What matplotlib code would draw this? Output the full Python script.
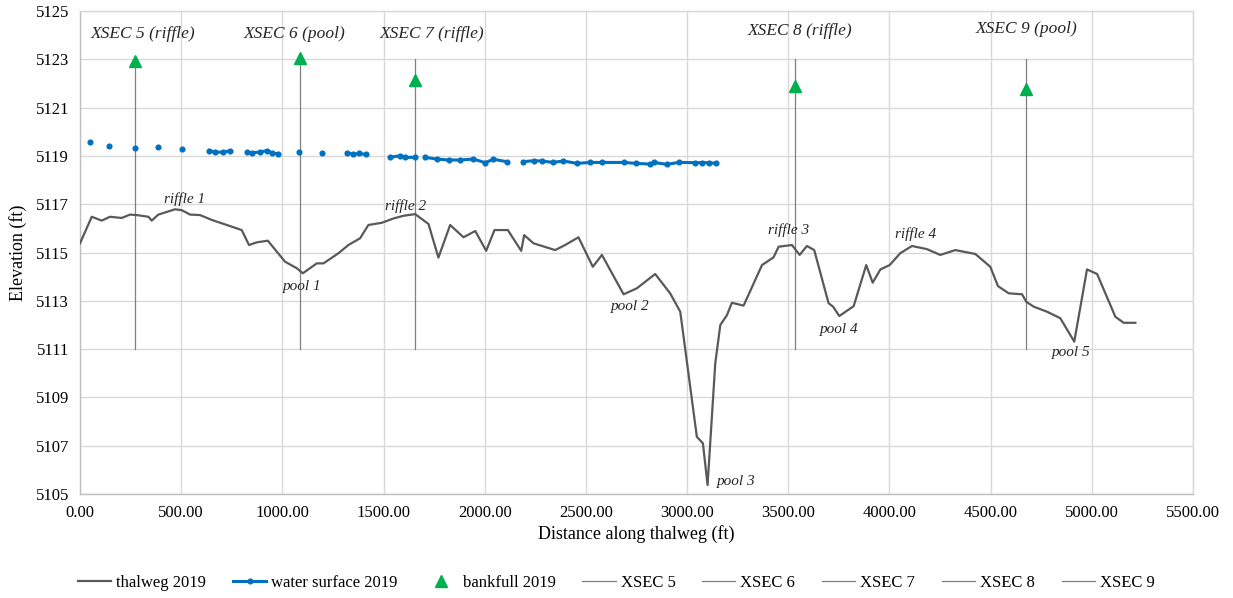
import numpy as np
import matplotlib
matplotlib.use("Agg")
import matplotlib.pyplot as plt
from matplotlib.ticker import FormatStrFormatter, MultipleLocator

plt.rcParams['font.family'] = ['Liberation Serif', 'DejaVu Serif']

# ---- thalweg profile ----
thalweg_dist = [0, 58, 107, 148, 206, 247, 280, 338, 354, 387, 470, 503, 544, 593, 651, 750, 799,
                835, 873, 928, 1013, 1071, 1101, 1170, 1203, 1277, 1326, 1384, 1425, 1491, 1549,
                1598, 1656, 1722, 1771, 1829, 1895, 1953, 2007, 2048, 2114, 2180, 2195, 2241, 2348,
                2397, 2463, 2534, 2579, 2686, 2752, 2842, 2916, 2966, 3048, 3078, 3101, 3139, 3164,
                3197, 3221, 3279, 3370, 3427, 3452, 3518, 3556, 3592, 3628, 3699, 3721, 3752, 3823,
                3885, 3917, 3955, 4001, 4053, 4111, 4185, 4251, 4325, 4424, 4498, 4536, 4589, 4655,
                4676, 4712, 4778, 4844, 4913, 4976, 5026, 5116, 5157, 5215]
thalweg_elev = [5115.38, 5116.48, 5116.32, 5116.48, 5116.43, 5116.57, 5116.55, 5116.48, 5116.32,
                5116.57, 5116.79, 5116.75, 5116.57, 5116.55, 5116.35, 5116.07, 5115.93, 5115.31,
                5115.42, 5115.49, 5114.62, 5114.35, 5114.14, 5114.55, 5114.55, 5114.97, 5115.31,
                5115.59, 5116.14, 5116.23, 5116.41, 5116.52, 5116.59, 5116.18, 5114.79, 5116.14,
                5115.63, 5115.89, 5115.07, 5115.93, 5115.93, 5115.07, 5115.72, 5115.38, 5115.10,
                5115.31, 5115.63, 5114.41, 5114.90, 5113.27, 5113.52, 5114.11, 5113.31, 5112.55,
                5107.37, 5107.10, 5105.37, 5110.41, 5112.00, 5112.41, 5112.92, 5112.80, 5114.48,
                5114.80, 5115.24, 5115.31, 5114.90, 5115.27, 5115.10, 5112.90, 5112.76, 5112.37,
                5112.78, 5114.48, 5113.75, 5114.30, 5114.48, 5114.97, 5115.27, 5115.14, 5114.90,
                5115.10, 5114.94, 5114.41, 5113.61, 5113.31, 5113.27, 5112.96, 5112.76, 5112.55,
                5112.28, 5111.31, 5114.30, 5114.11, 5112.34, 5112.09, 5112.09]

# ---- water surface (NaN = gap in survey) ----
nan = np.nan
ws_dist = [49, nan, 143, nan, 272, nan, 384, nan, 506, nan,
           638, 667, 708, 741, nan,
           827, 848, 890, 923, 948, 980, nan,
           1083, nan, 1198, nan,
           1318, 1351, 1379, 1415, nan,
           1532, 1582, 1607, 1656, nan,
           1705, 1763, 1821, 1878, 1944, 2002, 2043, 2109, nan,
           2188, 2241, 2282, 2337, 2389, 2455, 2521, 2579, 2686, 2748, 2818, 2834, 2900, 2958,
           3040, 3073, 3106, 3144]
ws_elev = [5119.59, nan, 5119.42, nan, 5119.34, nan, 5119.38, nan, 5119.30, nan,
           5119.22, 5119.16, 5119.15, 5119.22, nan,
           5119.16, 5119.13, 5119.16, 5119.22, 5119.13, 5119.08, nan,
           5119.16, nan, 5119.12, nan,
           5119.13, 5119.07, 5119.10, 5119.06, nan,
           5118.94, 5119.01, 5118.94, 5118.94, nan,
           5118.94, 5118.87, 5118.83, 5118.83, 5118.87, 5118.72, 5118.86, 5118.76, nan,
           5118.76, 5118.80, 5118.79, 5118.73, 5118.79, 5118.69, 5118.73, 5118.73, 5118.73,
           5118.69, 5118.66, 5118.73, 5118.65, 5118.73, 5118.72, 5118.72, 5118.72, 5118.69]

# ---- cross sections ----
xsec_names = ["XSEC 5", "XSEC 6", "XSEC 7", "XSEC 8", "XSEC 9"]
xsec_titles = ["XSEC 5 (riffle)", "XSEC 6 (pool)", "XSEC 7 (riffle)", "XSEC 8 (riffle)", "XSEC 9 (pool)"]
xsec_dist = [274, 1086, 1654, 3531, 4674]
xsec_top = 5123
xsec_bottom = 5111
bankfull_elev = [5122.95, 5123.05, 5122.14, 5121.89, 5121.77]
xsec_title_x = [311, 1058, 1740, 3559, 4676]
xsec_title_y = [5124.05, 5124.05, 5124.05, 5124.17, 5124.25]

# ---- feature annotations ----
feature_labels = ["riffle 1", "pool 1", "riffle 2", "pool 2", "pool 3",
                  "riffle 3", "pool 4", "riffle 4", "pool 5"]
feature_x = [519, 1099, 1607, 2719, 3243, 3500, 3752, 4128, 4899]
feature_y = [5117.2, 5113.6, 5116.93, 5112.78, 5105.5, 5115.93, 5111.83, 5115.77, 5110.88]

y_ticks = list(range(5105, 5126, 2))

fig = plt.figure(figsize=(12.33, 5.98), dpi=100)
ax = fig.add_axes([0.0649, 0.1739, 0.9027, 0.8077])

ax.plot(thalweg_dist, thalweg_elev, color='#595959', lw=1.6, label='thalweg 2019', zorder=4)
ax.plot(ws_dist, ws_elev, color='#0070C0', lw=2.2, marker='o', ms=3.4,
        label='water surface 2019', zorder=4)
ax.plot(xsec_dist, bankfull_elev, linestyle='none', marker='^', color='#00B050',
        ms=8, label='bankfull 2019', zorder=5)
for name, xd in zip(xsec_names, xsec_dist):
    ax.plot([xd, xd], [xsec_bottom, xsec_top], color='#7f7f7f', lw=0.9, label=name, zorder=3)

for t, xx, yy in zip(xsec_titles, xsec_title_x, xsec_title_y):
    ax.text(xx, yy, t, fontsize=12.5, style='italic', ha='center', va='center', color='#262626')
for t, xx, yy in zip(feature_labels, feature_x, feature_y):
    ax.text(xx, yy, t, fontsize=11, style='italic', ha='center', va='center', color='#262626')

ax.set_xlim(0, 5500)
ax.set_ylim(5105, 5125)
ax.xaxis.set_major_locator(MultipleLocator(500))
ax.set_yticks(y_ticks)
ax.xaxis.set_major_formatter(FormatStrFormatter('%.2f'))
ax.grid(True, color='#d9d9d9', lw=1.0)
ax.set_axisbelow(True)
for s in ax.spines.values():
    s.set_color('#d9d9d9')
    s.set_linewidth(1.0)
ax.spines['bottom'].set_color('#bfbfbf')
ax.spines['left'].set_color('#bfbfbf')
ax.tick_params(length=0, labelsize=12, colors='#000000', pad=8)
ax.set_xlabel('Distance along thalweg (ft)', fontsize=13, labelpad=3)
ax.set_ylabel('Elevation (ft)', fontsize=13, labelpad=6)

handles, labels = ax.get_legend_handles_labels()
fig.legend(handles, labels, loc='center', bbox_to_anchor=(0.5, 1 - 583 / 598), ncol=8,
           frameon=False, fontsize=12, handlelength=2.0, handletextpad=0.3, columnspacing=1.6)

fig.savefig('out.png', dpi=100)
